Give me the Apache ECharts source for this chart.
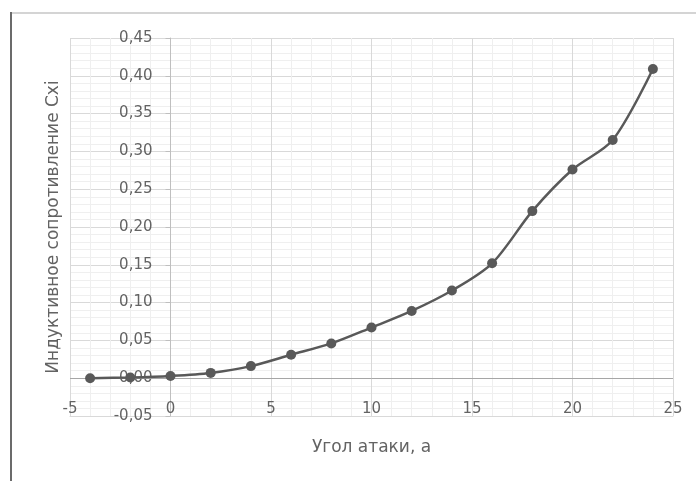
<!DOCTYPE html>
<html>
<head>
<meta charset="utf-8">
<script src="https://cdn.jsdelivr.net/npm/echarts@6/dist/echarts.min.js"></script>
<style>html,body{margin:0;padding:0;background:#fff}#c{width:696px;height:481px}</style>
</head>
<body>
<div id="c"></div>
<script>
var angles = [-4, -2, 0, 2, 4, 6, 8, 10, 12, 14, 16, 18, 20, 22, 24];
var cxi = [0.000, 0.001, 0.003, 0.007, 0.016, 0.031, 0.046, 0.067, 0.089, 0.116, 0.152, 0.221, 0.276, 0.315, 0.409];
var xTitle = 'Угол атаки, а';
var yTitle = 'Индуктивное сопротивление Сxi';

var chart = echarts.init(document.getElementById('c'));
var fmt = function (v) { return v.toFixed(2).replace('.', ','); };
var data = angles.map(function (a, i) { return [a, cxi[i]]; });
var txt = '#636363';
var font = 'DejaVu Sans, sans-serif';
chart.setOption({
  animation: false,
  backgroundColor: '#fff',
  grid: { left: 70, right: 23, top: 38, bottom: 65, containLabel: false, outerBoundsMode: 'none' },
  graphic: [
    { type: 'rect', shape: { x: 10, y: 12, width: 2, height: 469 }, style: { fill: '#6b6b6b' } },
    { type: 'rect', shape: { x: 12, y: 12, width: 684, height: 2 }, style: { fill: '#d4d4d4' } }
  ],
  xAxis: {
    type: 'value', min: -5, max: 25, interval: 5,
    name: xTitle, nameLocation: 'middle', nameGap: 23,
    nameTextStyle: { color: txt, fontSize: 17, fontFamily: font },
    axisLine: { onZero: false, show: true, lineStyle: { color: '#d9d9d9' } },
    axisTick: { show: false },
    axisLabel: { color: txt, fontSize: 15, fontFamily: font, margin: -14 },
    splitLine: { show: true, lineStyle: { color: '#d9d9d9', width: 1 } },
    minorTick: { show: false, splitNumber: 5 },
    minorSplitLine: { show: true, lineStyle: { color: '#efefef', width: 1 } }
  },
  yAxis: {
    type: 'value', min: -0.05, max: 0.45, interval: 0.05,
    position: 'left', offset: -100.5,
    name: yTitle, nameLocation: 'middle', nameGap: 108, nameRotate: 90,
    nameTextStyle: { color: txt, fontSize: 17, fontFamily: font },
    axisLine: { show: true, onZero: false, lineStyle: { color: '#bfbfbf' } },
    axisTick: { show: true, length: 5, lineStyle: { color: '#bfbfbf' } },
    axisLabel: { color: txt, fontSize: 15, fontFamily: font, margin: 18, formatter: fmt },
    splitLine: { show: true, lineStyle: { color: '#d9d9d9', width: 1 } },
    minorTick: { show: false, splitNumber: 5 },
    minorSplitLine: { show: true, lineStyle: { color: '#efefef', width: 1 } }
  },
  series: [{
    type: 'line', data: data, smooth: 0.3,
    symbol: 'circle', symbolSize: 10,
    lineStyle: { color: '#595959', width: 2.5 },
    itemStyle: { color: '#595959' },
    markLine: {
      silent: true, symbol: 'none', label: { show: false },
      lineStyle: { color: '#a6a6a6', type: 'solid', width: 1 },
      data: [{ yAxis: 0 }]
    },
    z: 5
  }]
});
</script>
</body>
</html>
